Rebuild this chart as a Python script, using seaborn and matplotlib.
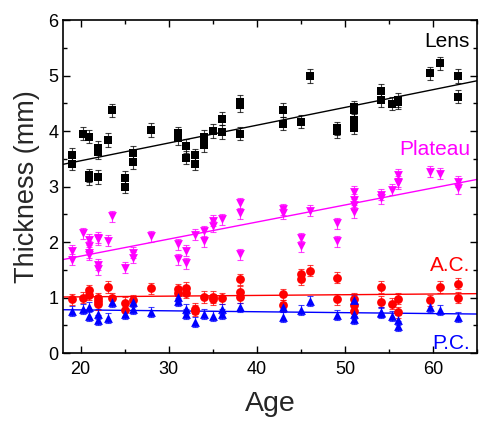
import numpy as np
import pandas as pd
import seaborn as sns
import matplotlib.pyplot as plt

# ---- data ----
lens_age = [19.0, 19.0, 20.3, 21.0, 21.0, 21.0, 22.0, 22.0, 22.0, 23.1, 23.6, 25.0, 25.0,
            26.0, 26.0, 28.0, 31.0, 31.0, 32.0, 32.0, 33.0, 33.0, 34.0, 34.0, 35.0, 36.0,
            36.0, 38.1, 38.1, 38.1, 43.0, 43.0, 45.0, 46.0, 49.1, 49.1, 51.0, 51.0, 51.0,
            51.0, 54.1, 54.1, 55.3, 56.0, 56.0, 59.6, 60.8, 62.8, 62.8]
lens_val = [3.57, 3.41, 3.95, 3.90, 3.20, 3.15, 3.70, 3.62, 3.17, 3.84, 4.37, 3.16, 3.00,
            3.61, 3.44, 4.02, 3.96, 3.87, 3.73, 3.52, 3.56, 3.41, 3.90, 3.75, 4.00, 4.22,
            3.98, 4.53, 4.47, 3.95, 4.38, 4.13, 4.17, 4.99, 4.05, 4.00, 4.43, 4.38, 4.20,
            4.06, 4.73, 4.56, 4.49, 4.56, 4.52, 5.04, 5.22, 4.99, 4.62]

plat_age = [19.0, 19.0, 20.3, 21.0, 21.0, 21.0, 21.0, 22.0, 22.0, 22.0, 22.0, 23.1, 23.6,
            25.0, 26.0, 26.0, 28.0, 31.0, 31.0, 32.0, 32.0, 33.0, 34.0, 34.0, 35.0, 35.0,
            36.0, 38.1, 38.1, 38.1, 43.0, 43.0, 45.0, 45.0, 46.0, 49.1, 49.1, 51.0, 51.0,
            51.0, 51.0, 54.1, 54.1, 55.3, 56.0, 56.0, 56.0, 59.6, 60.8, 62.8, 62.8]
plat_val = [1.84, 1.68, 2.16, 2.04, 1.92, 1.81, 1.77, 2.08, 2.05, 1.59, 1.51, 2.02, 2.46,
            1.54, 1.81, 1.72, 2.10, 1.96, 1.69, 1.84, 1.62, 2.13, 2.19, 2.01, 2.38, 2.28,
            2.41, 2.70, 2.52, 1.78, 2.59, 2.52, 2.07, 1.92, 2.56, 2.34, 2.01, 2.91, 2.76,
            2.67, 2.54, 2.85, 2.79, 2.94, 3.21, 3.09, 3.06, 3.27, 3.23, 3.09, 2.97]

ac_age = [19.0, 20.3, 21.0, 21.0, 22.0, 22.0, 22.0, 23.1, 23.6, 25.0, 25.0, 26.0, 28.0,
          31.0, 31.0, 32.0, 32.0, 33.0, 33.0, 34.0, 35.0, 35.0, 36.0, 38.1, 38.1, 38.1,
          43.0, 43.0, 45.0, 45.0, 46.0, 49.1, 49.1, 51.0, 51.0, 51.0, 54.1, 54.1, 55.3,
          56.0, 56.0, 59.6, 60.8, 62.8, 62.8]
ac_val = [0.97, 1.00, 1.13, 1.05, 0.99, 0.94, 0.88, 1.19, 0.99, 0.91, 0.77, 0.95, 1.17,
          1.15, 1.09, 1.18, 1.09, 0.80, 0.76, 1.01, 1.01, 0.97, 0.99, 1.33, 1.10, 1.01,
          1.06, 0.86, 1.42, 1.33, 1.48, 1.36, 0.97, 0.98, 0.86, 0.76, 1.19, 0.92, 0.89,
          0.98, 0.73, 0.95, 1.19, 1.25, 1.00]

pc_age = [19.0, 20.3, 21.0, 21.0, 22.0, 22.0, 23.1, 23.6, 25.0, 26.0, 26.0, 28.0, 31.0,
          31.0, 32.0, 32.0, 33.0, 34.0, 35.0, 36.0, 36.0, 38.1, 43.0, 43.0, 45.0, 46.0,
          49.1, 51.0, 51.0, 51.0, 54.1, 54.1, 55.3, 56.0, 56.0, 59.6, 60.8, 62.8]
pc_val = [0.76, 0.79, 0.83, 0.67, 0.71, 0.59, 0.63, 0.92, 0.71, 0.92, 0.80, 0.74, 1.01,
          0.94, 0.79, 0.71, 0.56, 0.71, 0.67, 0.80, 0.71, 0.82, 0.83, 0.64, 0.77, 0.94,
          0.68, 0.95, 0.71, 0.61, 0.74, 0.72, 0.67, 0.59, 0.49, 0.83, 0.77, 0.64]

series_names = ["Lens", "Plateau", "A.C.", "P.C."]
series_err = [0.12, 0.10, 0.10, 0.09]
# where each series name sits (age, thickness of the text baseline)
label_pos = [(64.2, 5.51), (64.2, 3.57), (64.2, 1.47), (64.2, 0.08)]

series = [
    (lens_age, lens_val, "black", "s"),
    (plat_age, plat_val, "#FF00FF", "v"),
    (ac_age, ac_val, "#FF0000", "o"),
    (pc_age, pc_val, "#0000FF", "^"),
]

sns.set_theme(style="ticks")
plt.rcParams["font.family"] = ["Liberation Sans", "DejaVu Sans"]

fig = plt.figure(figsize=(4.79, 4.22), dpi=100)
ax = fig.add_axes([0.1315, 0.1635, 0.8645, 0.789])

for (age, val, col, mk), name, err, pos in zip(series, series_names, series_err, label_pos):
    df = pd.DataFrame({"Age": age, "Thickness": val})
    ax.errorbar(df["Age"], df["Thickness"], yerr=err, fmt="none", ecolor=col,
                elinewidth=0.8, capsize=2.5, capthick=0.8, alpha=0.75, zorder=2)
    sns.scatterplot(data=df, x="Age", y="Thickness", marker=mk, color=col, s=40,
                    edgecolor=col, linewidth=0, ax=ax, zorder=3)
    # linear fit drawn across the full axis range
    k, b = np.polyfit(df["Age"], df["Thickness"], 1)
    xs = np.array([18, 65])
    ax.plot(xs, k * xs + b, color=col, lw=1.0, zorder=1)
    ax.text(pos[0], pos[1], name, color=col, fontsize=15,
            ha="right", va="baseline")

ax.set_xlim(18, 65)
ax.set_ylim(0, 6)
ax.set_xticks([20, 30, 40, 50, 60])
ax.set_xticks([25, 35, 45, 55, 65], minor=True)
ax.set_yticks(range(7))
ax.set_yticks(np.arange(0.5, 6, 1), minor=True)
ax.tick_params(which="both", direction="in", top=True, right=True, width=1.0,
               labelsize=13, colors="black")
ax.tick_params(axis="x", pad=6)
ax.tick_params(which="major", length=5)
ax.tick_params(which="minor", length=3)
for sp in ax.spines.values():
    sp.set_linewidth(1.2)
    sp.set_color("black")
ax.set_xlabel("Age", fontsize=20.5, labelpad=9)
ax.set_ylabel("Thickness (mm)", fontsize=19.5, labelpad=6)

fig.savefig("out.png", dpi=100)
